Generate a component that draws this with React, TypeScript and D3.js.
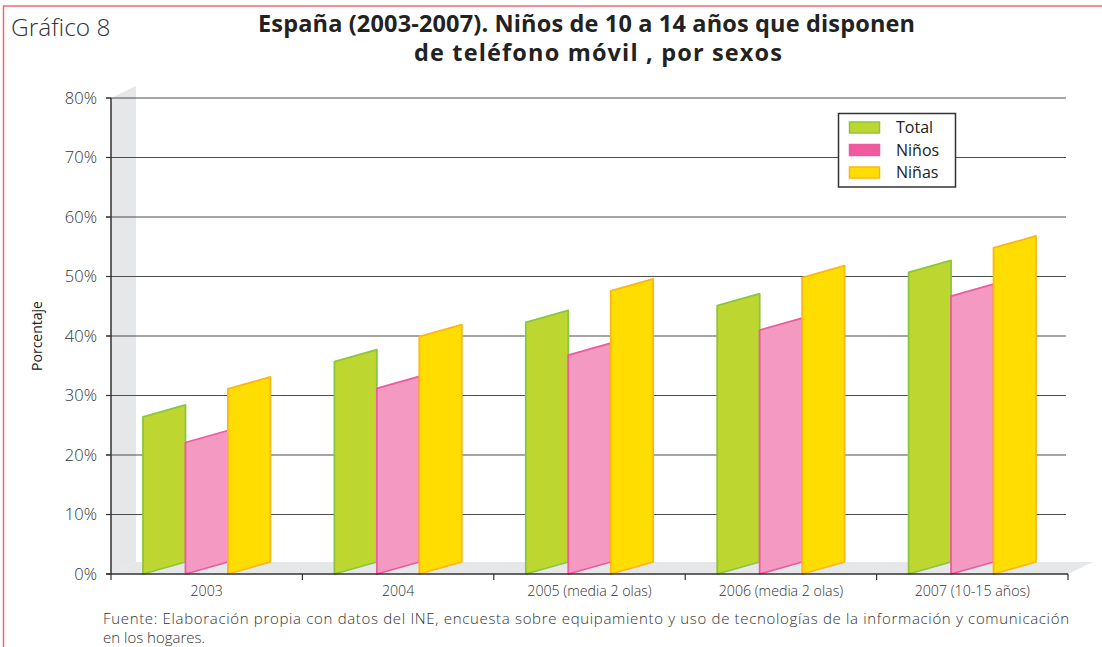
import React from 'react';
import * as d3 from 'd3';

// values (percent)
const categories = ['2003', '2004', '2005 (media 2 olas)', '2006 (media 2 olas)', '2007 (10-15 años)'];
const totalValues = [26.4, 35.7, 42.3, 45.1, 50.7];
const ninosValues = [22.1, 31.2, 36.8, 41.0, 46.7];
const ninasValues = [31.1, 39.9, 47.6, 49.8, 54.8];
const yTicks = [0, 10, 20, 30, 40, 50, 60, 70, 80];
const seriesNames = ['Total', 'Niños', 'Niñas'];

const series = [
  { name: seriesNames[0], values: totalValues, fill: '#bdd630', stroke: '#8cc63f', legendFill: '#bdd630' },
  { name: seriesNames[1], values: ninosValues, fill: '#f49ac2', stroke: '#ec5ba0', legendFill: '#f05a9e' },
  { name: seriesNames[2], values: ninasValues, fill: '#ffdd00', stroke: '#fbb617', legendFill: '#ffdd00' },
];

const W = 1102;
const H = 647;
const left = 111;
const right = 1068;
const top = 98;
const bottom = 574;
const depthX = 25;
const depthY = 12;
const font = '"Open Sans", "DejaVu Sans", sans-serif';

export default function App() {
  const x = d3.scaleBand<string>().domain(categories).range([left, right]);
  const inner = d3
    .scaleBand<string>()
    .domain(seriesNames)
    .range([32, x.bandwidth() - 32]);
  const y = d3.scaleLinear().domain([0, 80]).range([bottom, top]);
  const bw = inner.bandwidth();

  const barPath = (cat: string, name: string, v: number) => {
    const x0 = (x(cat) as number) + (inner(name) as number);
    const yb = y(0);
    const yt = y(v);
    return `M${x0},${yb}L${x0 + bw},${yb - depthY}L${x0 + bw},${yt - depthY}L${x0},${yt}Z`;
  };

  const boundaries = [...categories.map((c) => x(c) as number), right];

  return (
    <svg width={W} height={H} style={{ position: 'absolute', left: 0, top: 0, background: '#fff' }}>
      <rect x={0} y={0} width={W} height={H} fill="#fff" />
      {/* frame */}
      <path d={`M3.5,${H}L3.5,6L${W},6`} fill="none" stroke="#ef6b73" strokeWidth={1.5} />

      <text x={11} y={36} fontFamily={font} fontSize={24.5} fontWeight={300} fill="#333">
        Gráfico 8
      </text>
      <text fontFamily={font} fontSize={23.5} fontWeight={700} fill="#222">
        <tspan x={258} y={32} textLength={657} lengthAdjust="spacing">
          España (2003-2007). Niños de 10 a 14 años que disponen
        </tspan>
        <tspan x={414} y={61} textLength={368} lengthAdjust="spacing">
          de teléfono móvil , por sexos
        </tspan>
      </text>

      {/* wall and floor */}
      <path
        d={`M${left},${top}L${left + depthX},${top - depthY}L${left + depthX},${bottom - depthY}L${left},${bottom}Z`}
        fill="#e6e7e8"
      />
      <path
        d={`M${left},${bottom}L${left + depthX},${bottom - depthY}L${right + depthX},${bottom - depthY}L${right},${bottom}Z`}
        fill="#e6e7e8"
      />

      {/* grid */}
      {yTicks.map((t) => (
        <g key={t}>
          {t > 0 && (
            <line x1={left - 5} x2={right - 2} y1={y(t)} y2={y(t)} stroke="#4d4d4f" strokeWidth={1.2} />
          )}
          <line x1={left - 5} x2={left} y1={y(t)} y2={y(t)} stroke="#333" strokeWidth={1.2} />
          <text
            x={97}
            y={y(t)}
            dy="0.36em"
            textAnchor="end"
            fontFamily={font}
            fontSize={16.5}
            fontWeight={300}
            fill="#333"
          >
            {t}%
          </text>
        </g>
      ))}

      {/* bars */}
      {categories.map((c, i) => (
        <g key={c}>
          {series.map((s) => (
            <path
              key={s.name}
              d={barPath(c, s.name, s.values[i])}
              fill={s.fill}
              stroke={s.stroke}
              strokeWidth={1.8}
              strokeLinejoin="round"
            />
          ))}
        </g>
      ))}

      {/* axes */}
      <line x1={left} x2={left} y1={top} y2={bottom} stroke="#333" strokeWidth={1.5} />
      <line x1={left - 5} x2={right} y1={bottom} y2={bottom} stroke="#333" strokeWidth={1.5} />
      {boundaries.map((b, i) => (
        <line key={i} x1={b} x2={b} y1={bottom} y2={bottom + 6} stroke="#333" strokeWidth={1.2} />
      ))}
      {categories.map((c) => (
        <text
          key={c}
          x={(x(c) as number) + x.bandwidth() / 2}
          y={596}
          textAnchor="middle"
          fontFamily={font}
          fontSize={14.2}
          fontWeight={300}
          fill="#333"
        >
          {c}
        </text>
      ))}
      <text
        transform={`translate(42,${(top + bottom) / 2}) rotate(-90)`}
        textAnchor="middle"
        fontFamily={font}
        fontSize={14}
        fill="#222"
      >
        Porcentaje
      </text>

      {/* legend */}
      <g>
        <rect x={838.5} y={113.5} width={117} height={73.5} fill="#fff" stroke="#333" strokeWidth={1.5} />
        {series.map((s, i) => (
          <g key={s.name}>
            <rect
              x={849.5}
              y={122 + i * 22.5}
              width={30}
              height={11}
              fill={s.legendFill}
              stroke={s.stroke}
              strokeWidth={1.5}
            />
            <text x={896} y={133 + i * 22.5} fontFamily={font} fontSize={16} fill="#222">
              {s.name}
            </text>
          </g>
        ))}
      </g>

      <text fontFamily={font} fontSize={15} fontWeight={300} fill="#333">
        <tspan x={103} y={624} textLength={966} lengthAdjust="spacing">
          Fuente: Elaboración propia con datos del INE, encuesta sobre equipamiento y uso de tecnologías de la información y comunicación
        </tspan>
        <tspan x={103} y={643}>en los hogares.</tspan>
      </text>
    </svg>
  );
}
